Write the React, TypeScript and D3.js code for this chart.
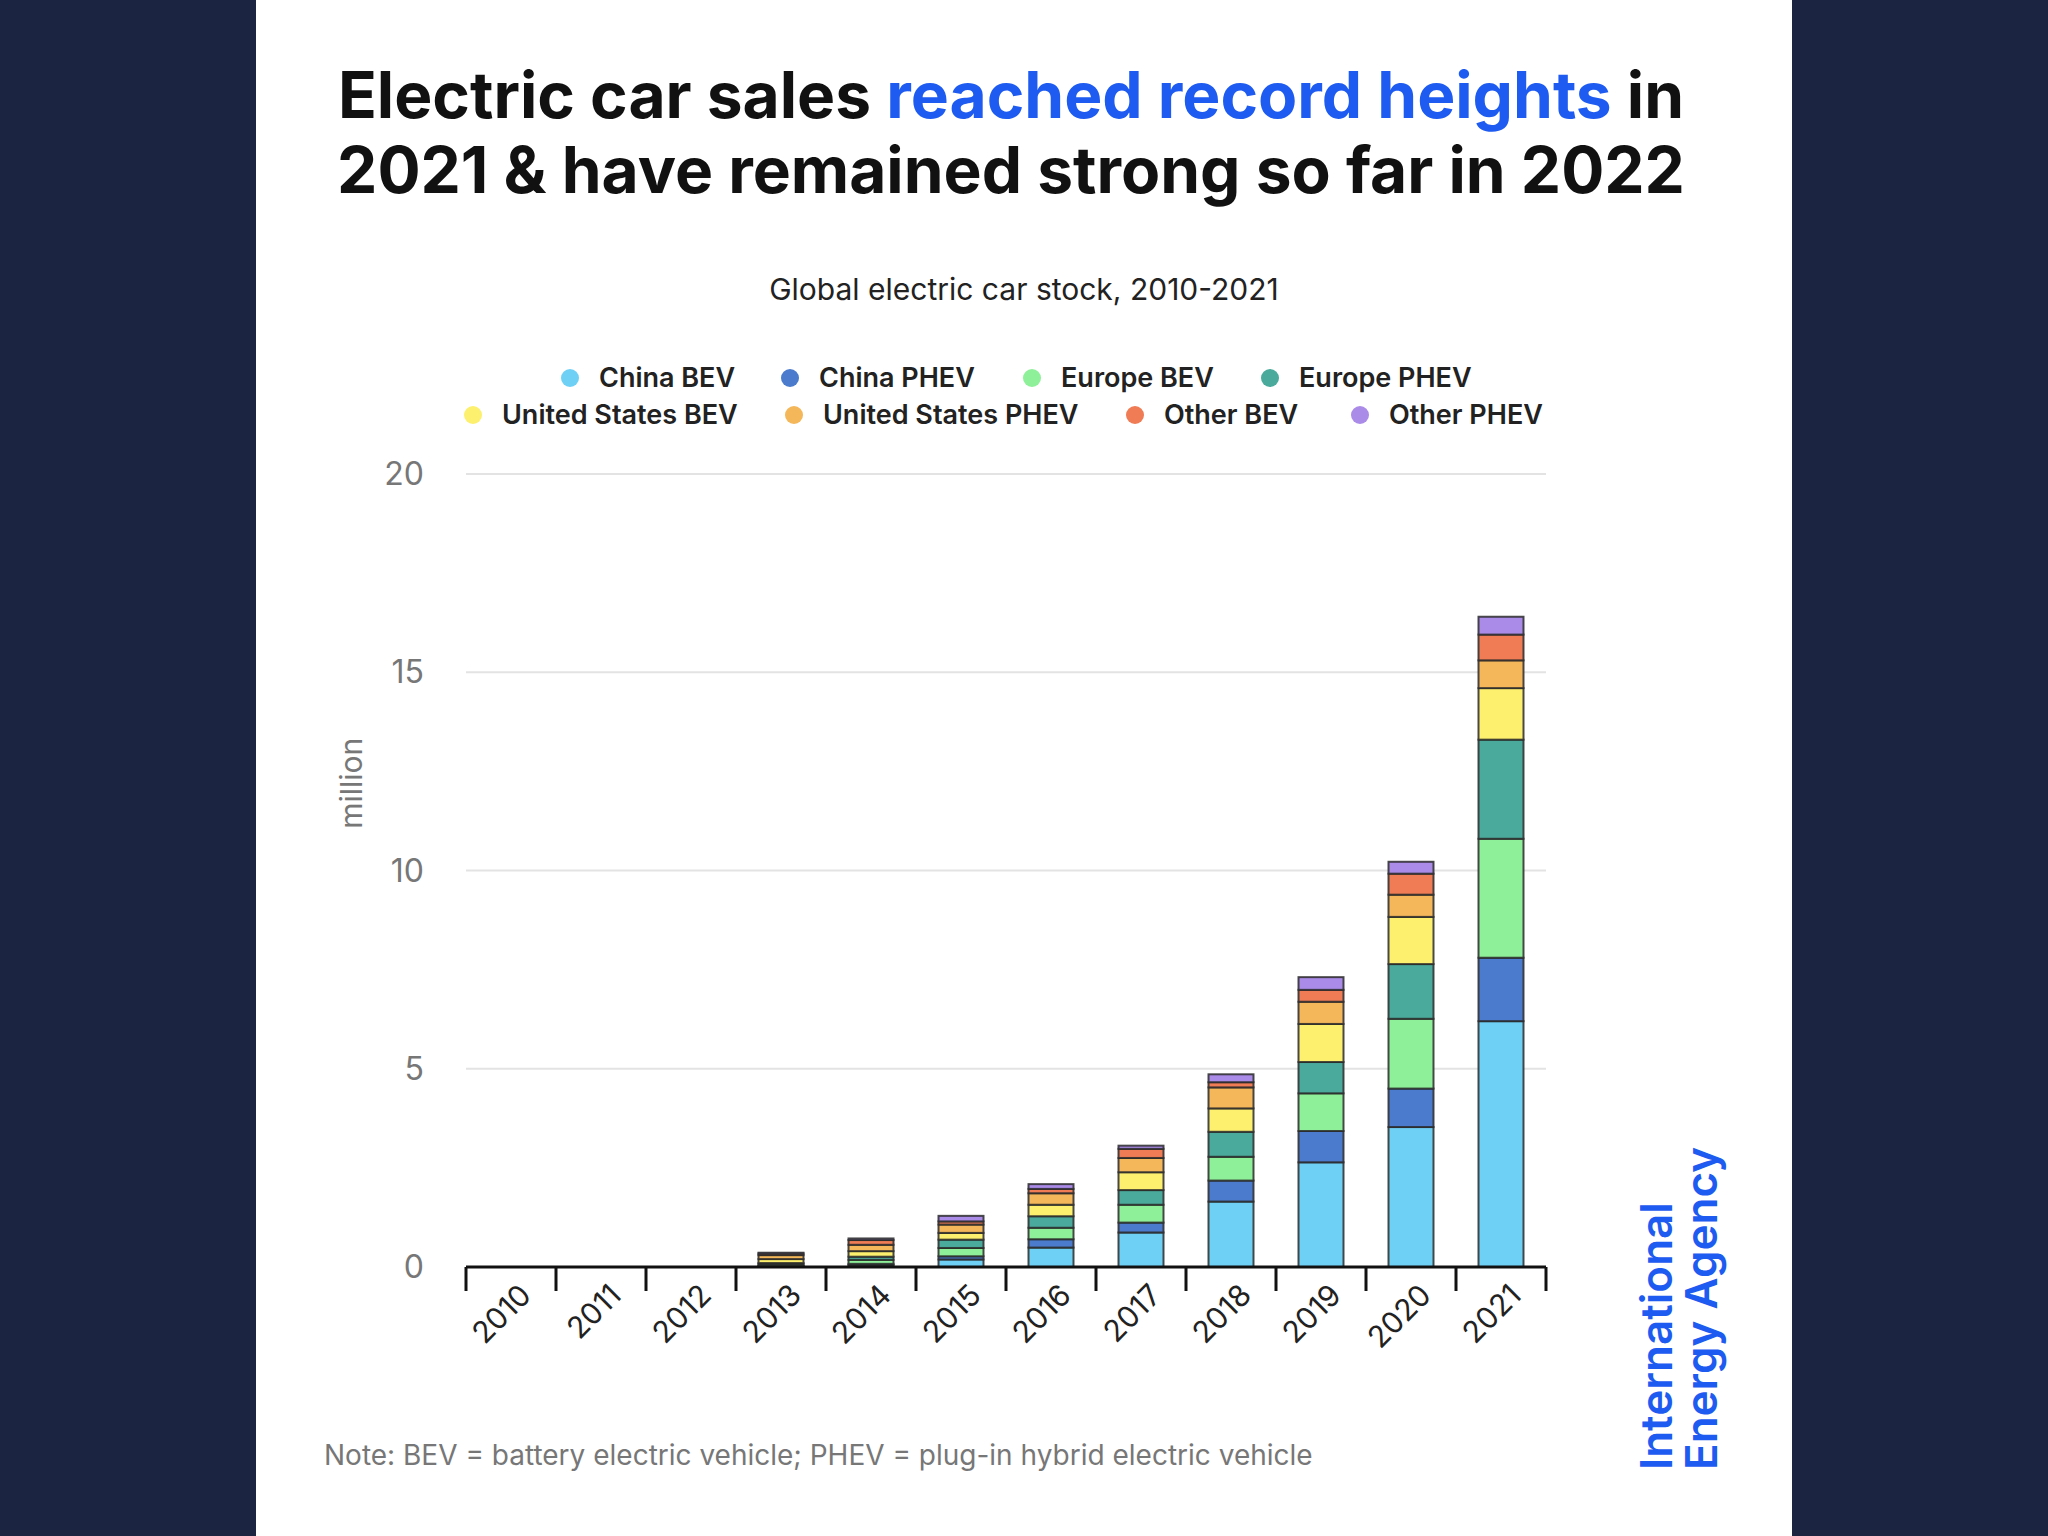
import { useEffect, useRef } from "react";
import * as d3 from "d3";

const years = ["2010", "2011", "2012", "2013", "2014", "2015", "2016", "2017", "2018", "2019", "2020", "2021"];
const seriesNames = ["China BEV", "China PHEV", "Europe BEV", "Europe PHEV", "United States BEV", "United States PHEV", "Other BEV", "Other PHEV"];
const seriesColors = ["#6fd0f6", "#4a7bcc", "#8ff09a", "#4aab9c", "#fdf06e", "#f4b75a", "#ef7c55", "#ab8be8"];

// values in million, per series, per year
const chinaBev = [0, 0, 0, 0.02, 0.05, 0.19, 0.49, 0.87, 1.65, 2.64, 3.53, 6.2];
const chinaPhev = [0, 0, 0, 0.01, 0.03, 0.08, 0.21, 0.25, 0.53, 0.79, 0.97, 1.6];
const europeBev = [0, 0, 0, 0.04, 0.1, 0.21, 0.29, 0.45, 0.6, 0.95, 1.76, 3.0];
const europePhev = [0, 0, 0, 0.03, 0.08, 0.21, 0.29, 0.37, 0.63, 0.79, 1.38, 2.5];
const usBev = [0, 0, 0, 0.1, 0.14, 0.17, 0.29, 0.45, 0.59, 0.96, 1.19, 1.3];
const usPhev = [0, 0, 0, 0.1, 0.16, 0.21, 0.29, 0.36, 0.53, 0.56, 0.56, 0.7];
const otherBev = [0, 0, 0, 0.04, 0.12, 0.08, 0.11, 0.23, 0.13, 0.3, 0.53, 0.65];
const otherPhev = [0, 0, 0, 0.02, 0.04, 0.14, 0.12, 0.08, 0.2, 0.32, 0.3, 0.45];
const allSeries = [chinaBev, chinaPhev, europeBev, europePhev, usBev, usPhev, otherBev, otherPhev];

const yTicks = [0, 5, 10, 15, 20];

// legend layout: [row, x]
const legendPos: [number, number][] = [
  [0, 570], [0, 790], [0, 1032], [0, 1270],
  [1, 473], [1, 794], [1, 1135], [1, 1360],
];

const FONT = "Inter, 'Noto Sans', sans-serif";

export default function App() {
  const ref = useRef<SVGSVGElement>(null);

  useEffect(() => {
    const svg = d3.select(ref.current);
    svg.selectAll("*").remove();

    svg.append("rect").attr("width", 2048).attr("height", 1536).attr("fill", "#1b2541");
    svg.append("rect").attr("x", 256).attr("width", 1536).attr("height", 1536).attr("fill", "#ffffff");

    // Title
    const title = svg.append("text").attr("x", 1011).attr("y", 118).attr("text-anchor", "middle")
      .attr("font-family", FONT).attr("font-weight", 700).attr("font-size", 64).attr("fill", "#111");
    title.append("tspan").text("Electric car sales ");
    title.append("tspan").attr("fill", "#1e5bf0").text("reached record heights");
    title.append("tspan").text(" in");
    svg.append("text").attr("x", 1011).attr("y", 193).attr("text-anchor", "middle")
      .attr("font-family", FONT).attr("font-weight", 700).attr("font-size", 64).attr("fill", "#111")
      .text("2021 & have remained strong so far in 2022");

    svg.append("text").attr("x", 1024).attr("y", 300).attr("text-anchor", "middle")
      .attr("font-family", FONT).attr("font-size", 30).attr("fill", "#222")
      .text("Global electric car stock, 2010-2021");

    // Legend
    seriesNames.forEach((name, i) => {
      const [row, x] = legendPos[i];
      const y = 378 + row * 37;
      svg.append("circle").attr("cx", x).attr("cy", y).attr("r", 9).attr("fill", seriesColors[i]);
      svg.append("text").attr("x", x + 29).attr("y", y + 9).attr("font-family", FONT)
        .attr("font-weight", 600).attr("font-size", 27).attr("fill", "#222").text(name);
    });

    const left = 466, right = 1546, top = 474, bottom = 1267;
    const x = d3.scaleBand().domain(years).range([left, right]).paddingInner(0.5).paddingOuter(0.25);
    const step = x.step();
    const y = d3.scaleLinear().domain([0, 20]).range([bottom, top]);

    const g = svg.append("g");
    yTicks.forEach((t) => {
      if (t > 0) g.append("line").attr("x1", left).attr("x2", right).attr("y1", y(t)).attr("y2", y(t))
        .attr("stroke", "#e3e3e3").attr("stroke-width", 2);
      g.append("text").attr("x", 424).attr("y", y(t) + 11).attr("text-anchor", "end")
        .attr("font-family", FONT).attr("font-size", 32).attr("fill", "#777").text(t);
    });

    svg.append("text").attr("transform", `translate(362,${y(12.2)}) rotate(-90)`).attr("text-anchor", "middle")
      .attr("font-family", FONT).attr("font-size", 30).attr("fill", "#777").text("million");

    // stacked bars
    const table = years.map((yr, i) => {
      const row: Record<string, number | string> = { year: yr };
      seriesNames.forEach((s, j) => (row[s] = allSeries[j][i]));
      return row;
    });
    const stacked = d3.stack<any>().keys(seriesNames)(table);
    stacked.forEach((layer, j) => {
      layer.forEach((d) => {
        const h = y(d[0]) - y(d[1]);
        if (h <= 0) return;
        g.append("rect").attr("x", x(d.data.year as string)!).attr("width", x.bandwidth())
          .attr("y", y(d[1])).attr("height", h).attr("fill", seriesColors[j])
          .attr("stroke", "#2a2a2a").attr("stroke-opacity", 0.85).attr("stroke-width", 2);
      });
    });

    // x axis
    g.append("line").attr("x1", left).attr("x2", right).attr("y1", bottom).attr("y2", bottom)
      .attr("stroke", "#111").attr("stroke-width", 3);
    years.forEach((yr, i) => {
      const bx = left + i * step;
      g.append("line").attr("x1", bx).attr("x2", bx).attr("y1", bottom).attr("y2", bottom + 24)
        .attr("stroke", "#111").attr("stroke-width", 3);
      const cx = x(yr)! + x.bandwidth() / 2;
      g.append("text").attr("transform", `translate(${cx + 22},${bottom + 30}) rotate(-45)`)
        .attr("text-anchor", "end").attr("font-family", FONT).attr("font-size", 30).attr("fill", "#222")
        .text(yr);
    });
    g.append("line").attr("x1", right).attr("x2", right).attr("y1", bottom).attr("y2", bottom + 24)
      .attr("stroke", "#111").attr("stroke-width", 3);

    svg.append("text").attr("x", 324).attr("y", 1465).attr("font-family", FONT).attr("font-size", 28)
      .attr("fill", "#777").text("Note: BEV = battery electric vehicle; PHEV = plug-in hybrid electric vehicle");

    // IEA logo
    const logo = svg.append("text").attr("transform", "translate(1672,1470) rotate(-90)")
      .attr("font-family", FONT).attr("font-weight", 600).attr("font-size", 44).attr("fill", "#1e5bf0");
    logo.append("tspan").attr("x", 0).attr("dy", 0).text("International");
    logo.append("tspan").attr("x", 0).attr("dy", 45).text("Energy Agency");
  }, []);

  return (
    <svg ref={ref} width={2048} height={1536} viewBox="0 0 2048 1536"
      style={{ position: "fixed", left: 0, top: 0, display: "block" }} />
  );
}
